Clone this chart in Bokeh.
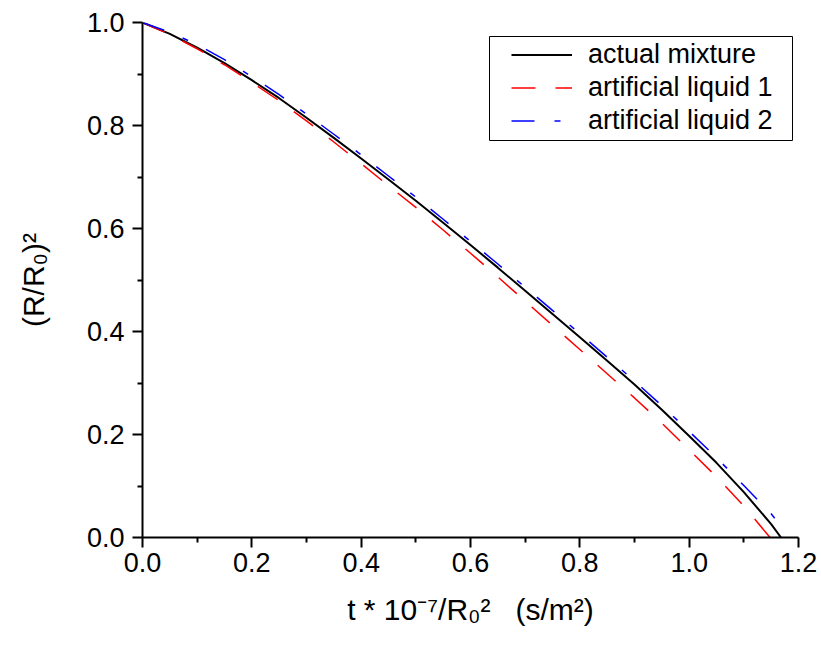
from bokeh.plotting import figure
from bokeh.models import (FixedTicker, PrintfTickFormatter, Legend, LegendItem,
                          BoxAnnotation, Range1d)
from bokeh.embed import file_html
from bokeh.resources import INLINE

# ---- data ----
t_actual = [0.00, 0.05, 0.10, 0.15, 0.20, 0.25, 0.30, 0.35, 0.40, 0.45, 0.50, 0.55,
            0.60, 0.65, 0.70, 0.75, 0.80, 0.85, 0.90, 0.95, 1.00, 1.05, 1.10, 1.15, 1.168]
r_actual = [1.000, 0.978, 0.951, 0.921, 0.888, 0.853, 0.815, 0.776, 0.736, 0.695, 0.654, 0.611,
            0.568, 0.524, 0.479, 0.434, 0.389, 0.343, 0.297, 0.248, 0.197, 0.145, 0.088, 0.026, 0.000]

t_liq1 = [0.00, 0.05, 0.10, 0.15, 0.20, 0.25, 0.30, 0.35, 0.40, 0.45, 0.50, 0.55,
          0.60, 0.65, 0.70, 0.75, 0.80, 0.85, 0.90, 0.95, 1.00, 1.05, 1.10, 1.148]
r_liq1 = [1.000, 0.977, 0.949, 0.918, 0.884, 0.848, 0.809, 0.768, 0.726, 0.683, 0.641, 0.597,
          0.552, 0.506, 0.459, 0.412, 0.365, 0.318, 0.271, 0.222, 0.170, 0.118, 0.061, 0.000]

t_liq2 = [0.00, 0.05, 0.10, 0.15, 0.20, 0.25, 0.30, 0.35, 0.40, 0.45, 0.50, 0.55,
          0.60, 0.65, 0.70, 0.75, 0.80, 0.85, 0.90, 0.95, 1.00, 1.05, 1.10, 1.15, 1.178]
r_liq2 = [1.000, 0.981, 0.957, 0.928, 0.895, 0.860, 0.822, 0.783, 0.743, 0.702, 0.661, 0.618,
          0.575, 0.531, 0.486, 0.441, 0.396, 0.350, 0.304, 0.256, 0.206, 0.155, 0.101, 0.046, 0.008]

series_names = ["actual mixture", "artificial liquid 1", "artificial liquid 2"]

x_title = "t * 10\u207b\u2077/R\u2080\u00b2\u00a0\u00a0\u00a0(s/m\u00b2)"
y_title = "(R/R\u2080)\u00b2"

x_ticks = [0.0, 0.2, 0.4, 0.6, 0.8, 1.0, 1.2]
x_minor = [0.1, 0.3, 0.5, 0.7, 0.9, 1.1]
y_ticks = [0.0, 0.2, 0.4, 0.6, 0.8, 1.0]
y_minor = [0.1, 0.3, 0.5, 0.7, 0.9]

FONT = "Liberation Sans"

p = figure(width=821, height=647, x_range=Range1d(0, 1.2), y_range=Range1d(0, 1.0),
           output_backend="svg", toolbar_location=None,
           min_border_left=142, min_border_right=23, min_border_top=22, min_border_bottom=110)
p.outline_line_color = None
p.grid.visible = False
p.background_fill_color = "white"
p.border_fill_color = "white"

p.xaxis[0].ticker = FixedTicker(ticks=x_ticks, minor_ticks=x_minor)
p.yaxis[0].ticker = FixedTicker(ticks=y_ticks, minor_ticks=y_minor)
for ax in (p.xaxis[0], p.yaxis[0]):
    ax.formatter = PrintfTickFormatter(format="%.1f")
    ax.axis_line_width = 2
    ax.axis_line_color = "black"
    ax.major_tick_line_width = 2
    ax.major_tick_line_color = "black"
    ax.major_tick_in = 0
    ax.major_tick_out = 10
    ax.minor_tick_line_width = 2
    ax.minor_tick_line_color = "black"
    ax.minor_tick_in = 0
    ax.minor_tick_out = 5
    ax.major_label_text_font = FONT
    ax.major_label_text_font_size = "27px"
    ax.major_label_text_color = "black"
    ax.axis_label_text_font = FONT
    ax.axis_label_text_font_style = "normal"
    ax.axis_label_text_color = "black"
p.xaxis[0].major_label_standoff = 5
p.yaxis[0].major_label_standoff = 8
p.xaxis[0].axis_label = x_title
p.xaxis[0].axis_label_text_font_size = "30px"
p.xaxis[0].axis_label_standoff = 18
p.yaxis[0].axis_label = y_title
p.yaxis[0].axis_label_text_font_size = "30px"
p.yaxis[0].axis_label_standoff = 34

r0 = p.line(t_actual, r_actual, line_color="black", line_width=2)
r1 = p.line(t_liq1, r_liq1, line_color="#ff0000", line_width=1.5, line_dash="24 20")
r2 = p.line(t_liq2, r_liq2, line_color="#0000ff", line_width=1.5, line_dash="23 20 6 20")

legend = Legend(items=[LegendItem(label=series_names[0], renderers=[r0]),
                       LegendItem(label=series_names[1], renderers=[r1]),
                       LegendItem(label=series_names[2], renderers=[r2])],
                location=(369, 400), padding=0, spacing=0, margin=0,
                glyph_width=61, glyph_height=33, label_height=33, label_standoff=16,
                label_text_font=FONT, label_text_font_size="27px",
                label_text_color="black",
                border_line_alpha=0, background_fill_alpha=0)
p.add_layout(legend)

box = BoxAnnotation(left=347, right=650, top=501, bottom=397,
                    left_units="screen", right_units="screen",
                    top_units="screen", bottom_units="screen",
                    fill_alpha=0, line_color="black", line_width=1, line_alpha=1)
p.add_layout(box)

open("out.html", "w").write(file_html(p, INLINE))
